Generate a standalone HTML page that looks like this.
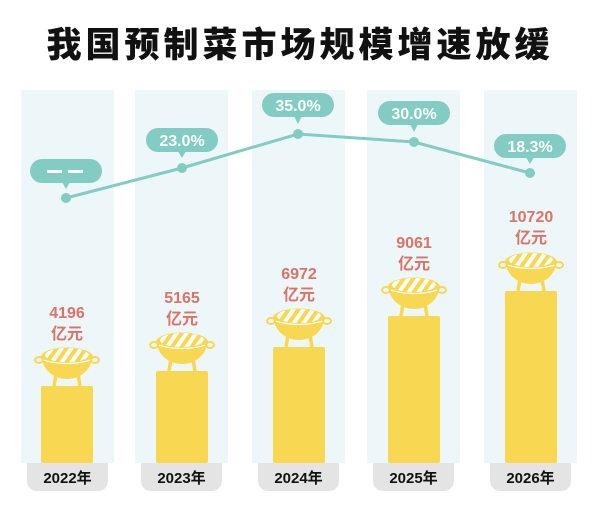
<!DOCTYPE html>
<html><head><meta charset="utf-8"><style>
body{margin:0;background:#fff;width:600px;height:510px;overflow:hidden}
svg{display:block}
</style></head><body>
<svg width="600" height="510" viewBox="0 0 600 510" xmlns="http://www.w3.org/2000/svg">
<defs>
<pattern id="st" width="8" height="8" patternUnits="userSpaceOnUse" patternTransform="rotate(35)">
<rect width="8" height="8" fill="#fff"/><rect width="4" height="8" fill="#f8d752"/>
</pattern>
<g id="grill">
<path d="M-25,-29 A25,22 0 0 0 25,-29 Z" fill="#f8d752"/>
<ellipse cx="0" cy="-29" rx="26" ry="9.5" fill="#f8d752"/>
<ellipse cx="0" cy="-31" rx="22" ry="7" fill="url(#st)"/>
<path d="M-24,-26 Q0,-19 24,-26" stroke="#fff" stroke-width="1.2" fill="none"/>
<ellipse cx="-28" cy="-26" rx="4" ry="3" fill="none" stroke="#f8d752" stroke-width="2"/>
<ellipse cx="28" cy="-26" rx="4" ry="3" fill="none" stroke="#f8d752" stroke-width="2"/>
<path d="M-11,-12 L-13,0 M11,-12 L13,0" stroke="#f8d752" stroke-width="3.5"/>
</g>
</defs>
<text x="300" y="57" text-anchor="middle" font-family="'Noto Sans CJK SC',sans-serif" font-weight="900" font-size="35" letter-spacing="4" fill="#111">我国预制菜市场规模增速放缓</text>
<g fill="#edf6f9">
<rect x="21" y="90" width="93" height="373"/><rect x="135" y="90" width="93" height="373"/>
<rect x="252" y="90" width="93" height="373"/><rect x="367" y="90" width="93" height="373"/>
<rect x="484" y="90" width="93" height="373"/>
</g>
<g fill="#e4e4e4">
<path d="M27,463 H108 V481 A10,10 0 0 1 98,491 H37 A10,10 0 0 1 27,481 Z"/>
<path d="M141,463 H222 V481 A10,10 0 0 1 212,491 H151 A10,10 0 0 1 141,481 Z"/>
<path d="M258,463 H339 V481 A10,10 0 0 1 329,491 H268 A10,10 0 0 1 258,481 Z"/>
<path d="M373,463 H454 V481 A10,10 0 0 1 444,491 H383 A10,10 0 0 1 373,481 Z"/>
<path d="M490,463 H571 V481 A10,10 0 0 1 561,491 H500 A10,10 0 0 1 490,481 Z"/>
</g>
<g font-family="'Liberation Sans','Noto Sans CJK SC',sans-serif" font-weight="bold" font-size="15" text-anchor="middle" fill="#111">
<text x="67.5" y="483">2022年</text><text x="181.5" y="483">2023年</text><text x="298.5" y="483">2024年</text><text x="413.5" y="483">2025年</text><text x="530.5" y="483">2026年</text>
</g>
<g fill="#f8d752">
<rect x="41" y="386" width="52" height="77" rx="2"/>
<rect x="156" y="371" width="52" height="92" rx="2"/>
<rect x="273" y="347" width="52" height="116" rx="2"/>
<rect x="388" y="316" width="52" height="147" rx="2"/>
<rect x="505" y="291" width="52" height="172" rx="2"/>
</g>
<use href="#grill" x="67" y="386"/><use href="#grill" x="182" y="371"/><use href="#grill" x="299" y="347"/>
<use href="#grill" x="414" y="316"/><use href="#grill" x="531" y="291"/>
<g font-family="'Liberation Sans','Noto Sans CJK SC',sans-serif" font-weight="bold" font-size="16" text-anchor="middle" fill="#d97467">
<text x="67" y="318">4196</text><text x="67" y="339">亿元</text>
<text x="182" y="303">5165</text><text x="182" y="324">亿元</text>
<text x="299" y="279">6972</text><text x="299" y="300">亿元</text>
<text x="414" y="248">9061</text><text x="414" y="269">亿元</text>
<text x="531" y="222">10720</text><text x="531" y="243">亿元</text>
</g>
<polyline points="66,198 182,168 298,134 414,142 530,173" fill="none" stroke="#82ccc3" stroke-width="3"/>
<g fill="#82ccc3">
<circle cx="66" cy="198" r="5"/><circle cx="182" cy="168" r="5"/><circle cx="298" cy="134" r="5"/><circle cx="414" cy="142" r="5"/><circle cx="530" cy="173" r="5"/>
<rect x="30" y="159" width="72" height="24" rx="12"/><path d="M62,182 L66,189 L70,182Z"/>
<rect x="146" y="128" width="72" height="24" rx="12"/><path d="M178,151 L182,158 L186,151Z"/>
<rect x="262" y="93" width="72" height="24" rx="12"/><path d="M294,116 L298,124 L302,116Z"/>
<rect x="378" y="101" width="72" height="24" rx="12"/><path d="M410,124 L414,132 L418,124Z"/>
<rect x="494" y="134" width="72" height="24" rx="12"/><path d="M526,157 L530,164 L534,157Z"/>
</g>
<g font-family="'Liberation Sans',sans-serif" font-weight="bold" font-size="16" text-anchor="middle" fill="#fff">
<rect x="47" y="170" width="15" height="3"/><rect x="68" y="170" width="15" height="3"/>
<text x="182" y="146">23.0%</text><text x="298" y="111">35.0%</text><text x="414" y="119">30.0%</text><text x="530" y="152">18.3%</text>
</g>
</svg>
</body></html>
